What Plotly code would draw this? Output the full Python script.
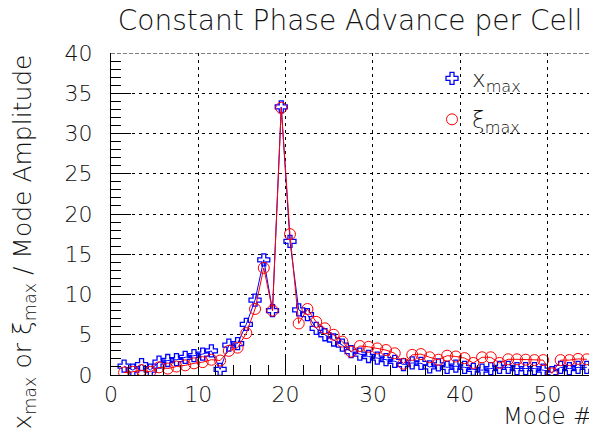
import plotly.graph_objects as go

# Mode numbers (points sit at bin centres)
modes = [k + 0.5 for k in range(1, 55)]

x_max = [1.1, 0.6, 1.3, 0.6, 1.6, 1.8, 1.9, 2.2, 2.4, 2.6,
         3.0, 0.7, 3.7, 3.9, 6.3, 9.3, 14.3, 8.0, 33.3, 16.6,
         8.1, 7.5, 5.8, 5.0, 4.35, 3.7, 2.9, 2.6, 2.3, 2.1,
         1.9, 1.7, 1.3, 1.5, 1.45, 1.0, 1.25, 0.95, 1.1, 0.95,
         0.7, 0.6, 0.8, 0.95, 0.95, 0.8, 0.8, 0.8, 0.6, 0.3,
         0.95, 0.8, 0.95, 0.95]

xi_max = [0.3, 0.4, 0.6, 0.4, 0.95, 0.8, 1.05, 1.2, 1.45, 1.6,
          1.9, 1.8, 3.0, 3.4, 5.2, 8.2, 13.3, 8.0, 33.2, 17.5,
          6.4, 8.2, 6.6, 5.8, 5.0, 4.15, 2.9, 3.6, 3.5, 3.3,
          3.1, 2.7, 1.4, 2.5, 2.6, 2.2, 1.9, 2.4, 2.3, 2.1,
          1.5, 2.2, 2.2, 1.5, 1.95, 1.95, 1.9, 1.85, 1.85, 0.2,
          1.85, 1.85, 2.0, 1.95]

title_text = "Constant Phase Advance per Cell"
x_title = "Mode #"
y_title = "x<sub>max</sub> or ξ<sub>max</sub> / Mode Amplitude"
name_x = "x<sub>max</sub>"
name_xi = "ξ<sub>max</sub>"

FONT = "DejaVu Sans"
W, H = 589, 431
L, R, T, B = 111, 0, 53, 56

fig = go.Figure()
fig.add_trace(go.Scatter(x=modes, y=x_max, mode="lines",
                         line=dict(color="#0000ff", width=1),
                         showlegend=False, hoverinfo="skip"))
fig.add_trace(go.Scatter(x=modes, y=x_max, mode="markers", name=name_x,
                         legendgroup="a",
                         marker=dict(symbol="cross-open", size=10, color="#0000ff",
                                     line=dict(width=1.3, color="#0000ff"))))
fig.add_trace(go.Scatter(x=modes, y=xi_max, mode="lines",
                         line=dict(color="#ff0000", width=1),
                         showlegend=False, hoverinfo="skip"))
fig.add_trace(go.Scatter(x=modes, y=xi_max, mode="markers", name=name_xi,
                         legendgroup="b",
                         marker=dict(symbol="circle-open", size=11, color="#ff0000",
                                     line=dict(width=1, color="#ff0000"))))

axis_common = dict(
    showline=True, linecolor="black", linewidth=1,
    ticks="inside", ticklen=20, tickcolor="black", tickwidth=1,
    showgrid=True, gridcolor="black", gridwidth=1, griddash="3px,4px",
    zeroline=False,
    tickfont=dict(family=FONT, size=22, color="#111", weight=200),
)

fig.update_layout(
    width=W, height=H,
    margin=dict(l=L, r=R, t=T, b=B, pad=0),
    paper_bgcolor="white", plot_bgcolor="white",
    font=dict(family=FONT, color="#111"),
    title=dict(text=title_text, x=350 / W, xanchor="center",
               y=1 - 20 / H, yanchor="middle",
               font=dict(family=FONT, size=28, color="#111", weight=200)),
    xaxis=dict(range=[0, 54.75], tick0=0, dtick=10, ticklabelstandoff=0,
               minor=dict(dtick=2, ticks="inside", ticklen=10, tickcolor="black",
                          showgrid=False),
               **axis_common),
    yaxis=dict(range=[0, 40], tick0=0, dtick=5, ticklabelstandoff=13,
               minor=dict(dtick=1, ticks="inside", ticklen=10, tickcolor="black",
                          showgrid=False),
               **axis_common),
    legend=dict(x=(432 - L) / (W - L), xanchor="left", y=1 - (57 - T) / (H - T - B),
                yanchor="top", bgcolor="rgba(0,0,0,0)", borderwidth=0,
                tracegroupgap=8, traceorder="grouped",
                font=dict(family=FONT, size=23, color="#111", weight=200)),
    showlegend=True,
)

fig.add_shape(type="line", xref="paper", yref="y", x0=0, x1=1, y0=40, y1=40,
              line=dict(color="black", width=1, dash="4px,2px"))

fig.add_annotation(text=x_title, xref="paper", yref="paper", x=1, y=-(416 - 375) / (H - T - B),
                   xanchor="right", yanchor="middle", xshift=5, showarrow=False,
                   font=dict(family=FONT, size=23, color="#111", weight=200))
fig.add_annotation(text=y_title, xref="paper", yref="paper", x=0, y=1, xshift=-88,
                   xanchor="center", yanchor="top", textangle=-90, showarrow=False,
                   font=dict(family=FONT, size=25, color="#111", weight=200))

fig.write_html("out.html")
